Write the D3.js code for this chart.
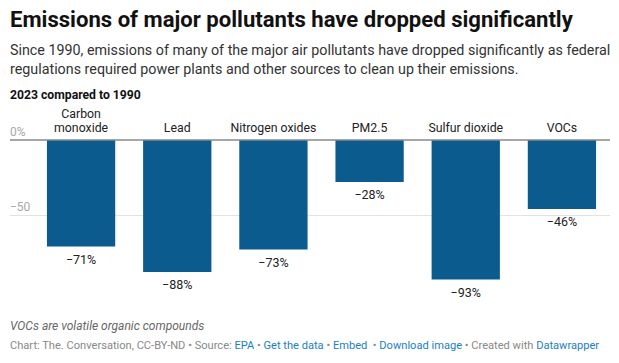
<!DOCTYPE html>
<html>
<head>
<meta charset="utf-8">
<script src="https://cdn.jsdelivr.net/npm/d3@7"></script>
<style>
  body { margin: 0; background: #fff; font-family: Roboto, "Noto Sans", sans-serif; }
  svg text { font-family: Roboto, "Noto Sans", sans-serif; }
</style>
</head>
<body>
<div id="chart"></div>
<script>
// pollutants and change from 1990 to 2023 (%)
var pollutants = [['Carbon', 'monoxide'], ['Lead'], ['Nitrogen oxides'], ['PM2.5'], ['Sulfur dioxide'], ['VOCs']];
var changes = [-71, -88, -73, -28, -93, -46];
var yTicks = [0, -50];

var width = 619;
var height = 363;

var svg = d3.select('#chart').append('svg')
  .attr('width', width)
  .attr('height', height);

// header texts
svg.append('text')
  .attr('x', 10).attr('y', 27)
  .attr('font-size', 22.1).attr('font-weight', 700).attr('fill', '#111')
  .text('Emissions of major pollutants have dropped significantly');

var sub = ['Since 1990, emissions of many of the major air pollutants have dropped significantly as federal',
  'regulations required power plants and other sources to clean up their emissions.'];
svg.selectAll('.sub').data(sub).enter().append('text')
  .attr('class', 'sub')
  .attr('x', 10).attr('y', function (d, i) { return 55 + i * 19; })
  .attr('font-size', 14.3).attr('fill', '#333')
  .text(function (d) { return d; });

svg.append('text')
  .attr('x', 10).attr('y', 99)
  .attr('font-size', 12.2).attr('font-weight', 700).attr('fill', '#111')
  .text('2023 compared to 1990');

// scales
var x = d3.scaleBand()
  .domain(d3.range(pollutants.length))
  .range([33, 610])
  .paddingInner(0.29)
  .paddingOuter(0.145);

var y = d3.scaleLinear()
  .domain([0, -100])
  .range([140, 290]);

var g = svg.append('g');

// grid
g.selectAll('.grid').data(yTicks.filter(function (d) { return d !== 0; })).enter().append('line')
  .attr('class', 'grid')
  .attr('x1', 10).attr('x2', 610)
  .attr('y1', function (d) { return y(d) + 0.5; })
  .attr('y2', function (d) { return y(d) + 0.5; })
  .attr('stroke', '#e2e2e2');

g.selectAll('.ytick').data(yTicks).enter().append('text')
  .attr('class', 'ytick')
  .attr('x', 10)
  .attr('y', function (d) { return y(d) - 4; })
  .attr('font-size', 12).attr('fill', '#a8a8a8')
  .text(function (d) { return d === 0 ? '0%' : '\u2212' + Math.abs(d); });

// bars
g.selectAll('.bar').data(changes).enter().append('rect')
  .attr('class', 'bar')
  .attr('x', function (d, i) { return x(i); })
  .attr('y', y(0))
  .attr('width', x.bandwidth())
  .attr('height', function (d) { return y(d) - y(0); })
  .attr('fill', '#0b5b8f');

// zero line
g.append('line')
  .attr('x1', 10).attr('x2', 610)
  .attr('y1', y(0)).attr('y2', y(0))
  .attr('stroke', '#888').attr('stroke-width', 1.6);

// category labels
var cat = g.selectAll('.cat').data(pollutants).enter().append('text')
  .attr('class', 'cat')
  .attr('text-anchor', 'middle')
  .attr('font-size', 12.3).attr('fill', '#222');
cat.each(function (d, i) {
  var t = d3.select(this);
  d.forEach(function (line, j) {
    t.append('tspan')
      .attr('x', x(i) + x.bandwidth() / 2)
      .attr('y', 132 - (d.length - 1 - j) * 14)
      .text(line);
  });
});

// value labels
g.selectAll('.val').data(changes).enter().append('text')
  .attr('class', 'val')
  .attr('text-anchor', 'middle')
  .attr('x', function (d, i) { return x(i) + x.bandwidth() / 2; })
  .attr('y', function (d) { return y(d) + 17; })
  .attr('font-size', 12.5).attr('fill', '#222')
  .text(function (d) { return '\u2212' + Math.abs(d) + '%'; });

// footer
svg.append('text')
  .attr('x', 10).attr('y', 330)
  .attr('font-size', 12).attr('font-style', 'italic').attr('fill', '#666')
  .text('VOCs are volatile organic compounds');

var src = svg.append('text')
  .attr('x', 10).attr('y', 349)
  .attr('font-size', 11.1).attr('fill', '#888');
var parts = [
  ['Chart: The. Conversation, CC-BY-ND \u2022 Source: ', '#888'],
  ['EPA', '#1a80c4'],
  [' \u2022 ', '#888'],
  ['Get the data', '#1a80c4'],
  [' \u2022 ', '#888'],
  ['Embed', '#1a80c4'],
  ['  \u2022 ', '#888'],
  ['Download image', '#1a80c4'],
  [' \u2022 Created with ', '#888'],
  ['Datawrapper', '#1a80c4']
];
src.selectAll('tspan').data(parts).enter().append('tspan')
  .attr('fill', function (d) { return d[1]; })
  .style('white-space', 'pre')
  .text(function (d) { return d[0]; });
</script>
</body>
</html>
